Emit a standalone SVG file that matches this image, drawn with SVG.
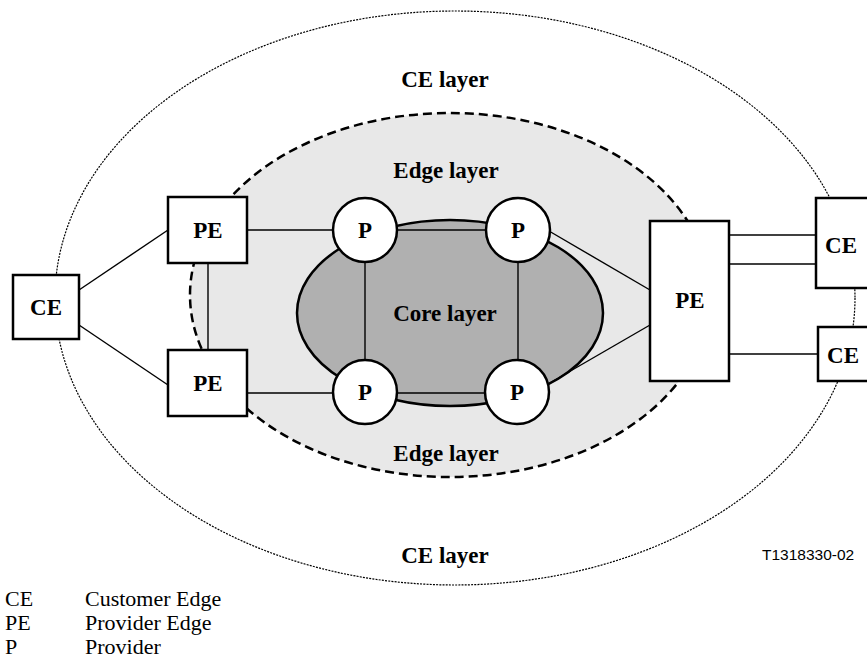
<svg xmlns="http://www.w3.org/2000/svg" width="867" height="666" viewBox="0 0 867 666">
  <style>
    .box { fill: #ffffff; stroke: #000000; stroke-width: 2.5; }
    .node { fill: #ffffff; stroke: #000000; stroke-width: 2.5; }
    .link { stroke: #000000; stroke-width: 1.4; fill: none; }
    .lbl { font-family: "Liberation Serif", "Times New Roman", serif; font-weight: bold; font-size: 23px; text-anchor: middle; fill: #000000; }
    .leg { font-family: "Liberation Serif", "Times New Roman", serif; font-size: 22px; fill: #000000; }
    .tag { font-family: "Liberation Sans", Arial, sans-serif; font-size: 15.5px; fill: #000000; }
  </style>

  <rect width="867" height="666" fill="#ffffff"/>

  <!-- Layers -->
  <g id="layers">
    <ellipse id="ce-layer" cx="455" cy="298" rx="400" ry="287" fill="none" stroke="#000000" stroke-width="1.2" stroke-dasharray="2 1.2"/>
    <ellipse id="edge-layer" cx="450" cy="295" rx="260" ry="182" fill="#e8e8e8" stroke="#000000" stroke-width="2.5" stroke-dasharray="9 5"/>
    <ellipse id="core-layer" cx="450" cy="313" rx="153" ry="93" fill="#b0b0b0" stroke="#000000" stroke-width="2.5"/>
    <text class="lbl" x="445" y="87">CE layer</text>
    <text class="lbl" x="446" y="178">Edge layer</text>
    <text class="lbl" x="445" y="321">Core layer</text>
    <text class="lbl" x="446" y="461">Edge layer</text>
    <text class="lbl" x="445" y="563">CE layer</text>
  </g>

  <!-- Connectors -->
  <g id="connectors" class="link">
    <line x1="79" y1="290" x2="168" y2="230"/>
    <line x1="79" y1="325" x2="168" y2="385"/>
    <line x1="208" y1="263" x2="208" y2="350"/>
    <line x1="247" y1="230" x2="333" y2="230"/>
    <line x1="247" y1="393" x2="333" y2="393"/>
    <line x1="397" y1="230" x2="486" y2="230"/>
    <line x1="397" y1="393" x2="485" y2="393"/>
    <line x1="365" y1="262" x2="365" y2="360"/>
    <line x1="518" y1="262" x2="518" y2="360"/>
    <line x1="549" y1="231" x2="650" y2="290"/>
    <line x1="548" y1="384" x2="650" y2="325"/>
    <line x1="729" y1="235" x2="816" y2="235"/>
    <line x1="729" y1="264" x2="816" y2="264"/>
    <line x1="729" y1="354" x2="818" y2="354"/>
  </g>

  <!-- Nodes -->
  <g id="ce-left">
    <rect class="box" x="13" y="275" width="66" height="64"/>
    <text class="lbl" x="46" y="315">CE</text>
  </g>
  <g id="pe-top-left">
    <rect class="box" x="168" y="197" width="79" height="66"/>
    <text class="lbl" x="208" y="238">PE</text>
  </g>
  <g id="pe-bottom-left">
    <rect class="box" x="168" y="350" width="79" height="66"/>
    <text class="lbl" x="208" y="391">PE</text>
  </g>
  <g id="p-top-left">
    <circle class="node" cx="365" cy="230" r="32"/>
    <text class="lbl" x="365" y="238">P</text>
  </g>
  <g id="p-top-right">
    <circle class="node" cx="518" cy="230" r="32"/>
    <text class="lbl" x="518" y="238">P</text>
  </g>
  <g id="p-bottom-left">
    <circle class="node" cx="365" cy="392" r="32"/>
    <text class="lbl" x="365" y="400">P</text>
  </g>
  <g id="p-bottom-right">
    <circle class="node" cx="517" cy="392" r="32"/>
    <text class="lbl" x="517" y="400">P</text>
  </g>
  <g id="pe-right">
    <rect class="box" x="650" y="221" width="79" height="160"/>
    <text class="lbl" x="690" y="308">PE</text>
  </g>
  <g id="ce-top-right">
    <rect class="box" x="816" y="198" width="70" height="90"/>
    <text class="lbl" x="841" y="253">CE</text>
  </g>
  <g id="ce-bottom-right">
    <rect class="box" x="818" y="327" width="70" height="54"/>
    <text class="lbl" x="843" y="363">CE</text>
  </g>

  <!-- Figure tag and legend -->
  <text class="tag" x="762" y="560">T1318330-02</text>
  <g id="legend">
    <text class="leg" x="5" y="606">CE</text>
    <text class="leg" x="85" y="606">Customer Edge</text>
    <text class="leg" x="5" y="630">PE</text>
    <text class="leg" x="85" y="630">Provider Edge</text>
    <text class="leg" x="5" y="654">P</text>
    <text class="leg" x="85" y="654">Provider</text>
  </g>
</svg>
